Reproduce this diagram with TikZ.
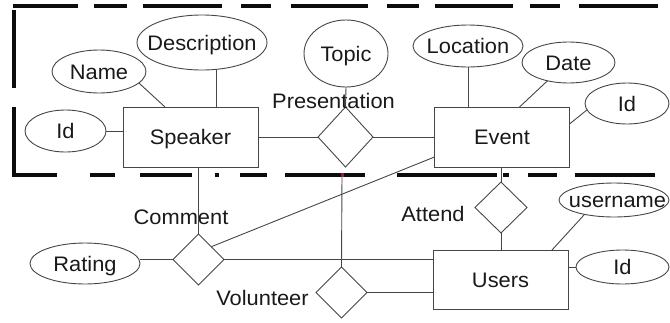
\documentclass[tikz,border=0pt]{standalone}
\usepackage{fontspec}
\setmainfont{Liberation Sans}[FakeStretch=1.04]
\usetikzlibrary{shapes.geometric,calc}
\definecolor{edge}{RGB}{70,70,70}
\definecolor{ink}{RGB}{25,25,25}
\definecolor{framec}{RGB}{12,12,12}
\definecolor{markc}{RGB}{150,30,45}
% zero-width box so the ellipse size is set by its minimum dimensions only
\newcommand\zw[1]{\makebox[0pt]{#1}}
\begin{document}
\begin{tikzpicture}[x=1pt,y=-1pt,
  every node/.style={font=\fontsize{21}{21}\selectfont, text=ink, inner sep=0pt, outer sep=0pt,
    text height=15pt, text depth=0pt},
  entity/.style={draw=edge, line width=0.9pt, rectangle, minimum width=135pt, minimum height=60pt},
  attr/.style args={#1x#2}{draw=edge, line width=0.9pt, ellipse, minimum width=#1pt, minimum height=#2pt},
  rel/.style args={#1x#2}{draw=edge, line width=0.9pt, diamond, minimum width=#1pt, minimum height=#2pt},
  conn/.style={draw=edge, line width=0.9pt},
  frameline/.style={draw=framec, line width=4pt, line cap=butt, line join=miter}
]
\useasboundingbox (0,0) rectangle (670,322);

% dashed frame around the speaker/event part (open on the right)
\foreach \a/\b in {12.5/78,94/127,143/222,241/271,291/368,387/419,435/513,530/560,579/658}
  \draw[frameline] (\a,6) -- (\b,6);
\draw[frameline] (14.3,10) -- (14.3,88);
\draw[frameline] (14.3,107) -- (14.3,175) -- (57,175);
\foreach \a/\b in {90/115,140/192,215/218.5,240/267,285/365,397/497,503/509,528/557,575/655}
  \draw[frameline] (\a,175) -- (\b,175);
\draw[draw=markc, line width=4pt] (340.5,175) -- (344,175);

% entities
\node[entity] (speaker) at (190.5,137) {Speaker};
\node[entity] (event) at (502,137) {Event};
\node[entity, minimum height=59pt] (users) at (500.5,279.5) {Users};

% relationships
\node[rel=55x60] (pres) at (345.5,137) {};
\node[rel=51x51] (comment) at (198.5,259.5) {};
\node[rel=51x51] (vol) at (341.5,292.5) {};
\node[rel=52x51] (attend) at (501,207.5) {};

% attributes
\node[attr=84x67] (topic) at (346,53.5) {\zw{Topic}};
\node[attr=130x55] (desc) at (202,42.5) {\zw{Description}};
\node[attr=94x43] (name) at (99,71.5) {\zw{Name}};
\node[attr=81x42] (idS) at (65.5,131) {\zw{Id}};
\node[attr=110x42] (loc) at (468,46) {\zw{Location}};
\node[attr=93x41] (date) at (568.5,62.5) {\zw{Date}};
\node[attr=84x41] (idE) at (627,103.5) {\zw{Id}};
\node[attr=110x41] (rating) at (85,263.5) {\zw{Rating}};
\node[attr=110x34] (uname) at (614,200) {\zw{\hspace{7pt}username}};
\node[attr=93x34] (idU) at (622.5,267) {\zw{Id}};

% relationship names
\node (presL) at (333.5,100.5) {Presentation};
\node (commL) at (181,217) {Comment};
\node (volL) at (262.5,297.5) {Volunteer};
\node (attL) at (433,213.5) {Attend};

\coordinate (vtop) at (342,175);

% connectors
\draw[conn] (idS.east) -- (idS.east -| speaker.west);
\draw[conn] (name.-16) -- ($(speaker.north west)+(42,0)$);
\draw[conn] (desc.-62) -- (desc.-62 |- speaker.north);
\draw[conn] (speaker.east) -- (pres.west);
\draw[conn] (topic.south) -- (pres.north);
\draw[conn] (pres.east) -- (event.west);
\draw[conn] (loc.south) -- (loc.south |- event.north);
\draw[conn] (date.-139) -- ($(event.north west)+(85,0)$);
\draw[conn] (idE.189) -- ($(event.north east)+(0,17)$);
\draw[conn] (speaker.south -| comment.north) -- (comment.north);
\draw[conn] (comment.west -| rating.east) -- (comment.west);
\draw[conn] (comment.north east) -- ($(event.south west)+(0,-10)$);
\draw[conn] (comment.east) -- (comment.east -| users.west);
\draw[conn] (vol.north) -- (vtop);
\draw[conn] (vol.east) -- (vol.east -| users.west);
\draw[conn] (event.south -| attend.north) -- (attend.north);
\draw[conn] (attend.south) -- (attend.south |- users.north);
\draw[conn] (uname.-154) -- ($(users.north east)+(-16,0)$);
\draw[conn] (idU.west) -- (idU.west -| users.east);
\end{tikzpicture}
\end{document}
